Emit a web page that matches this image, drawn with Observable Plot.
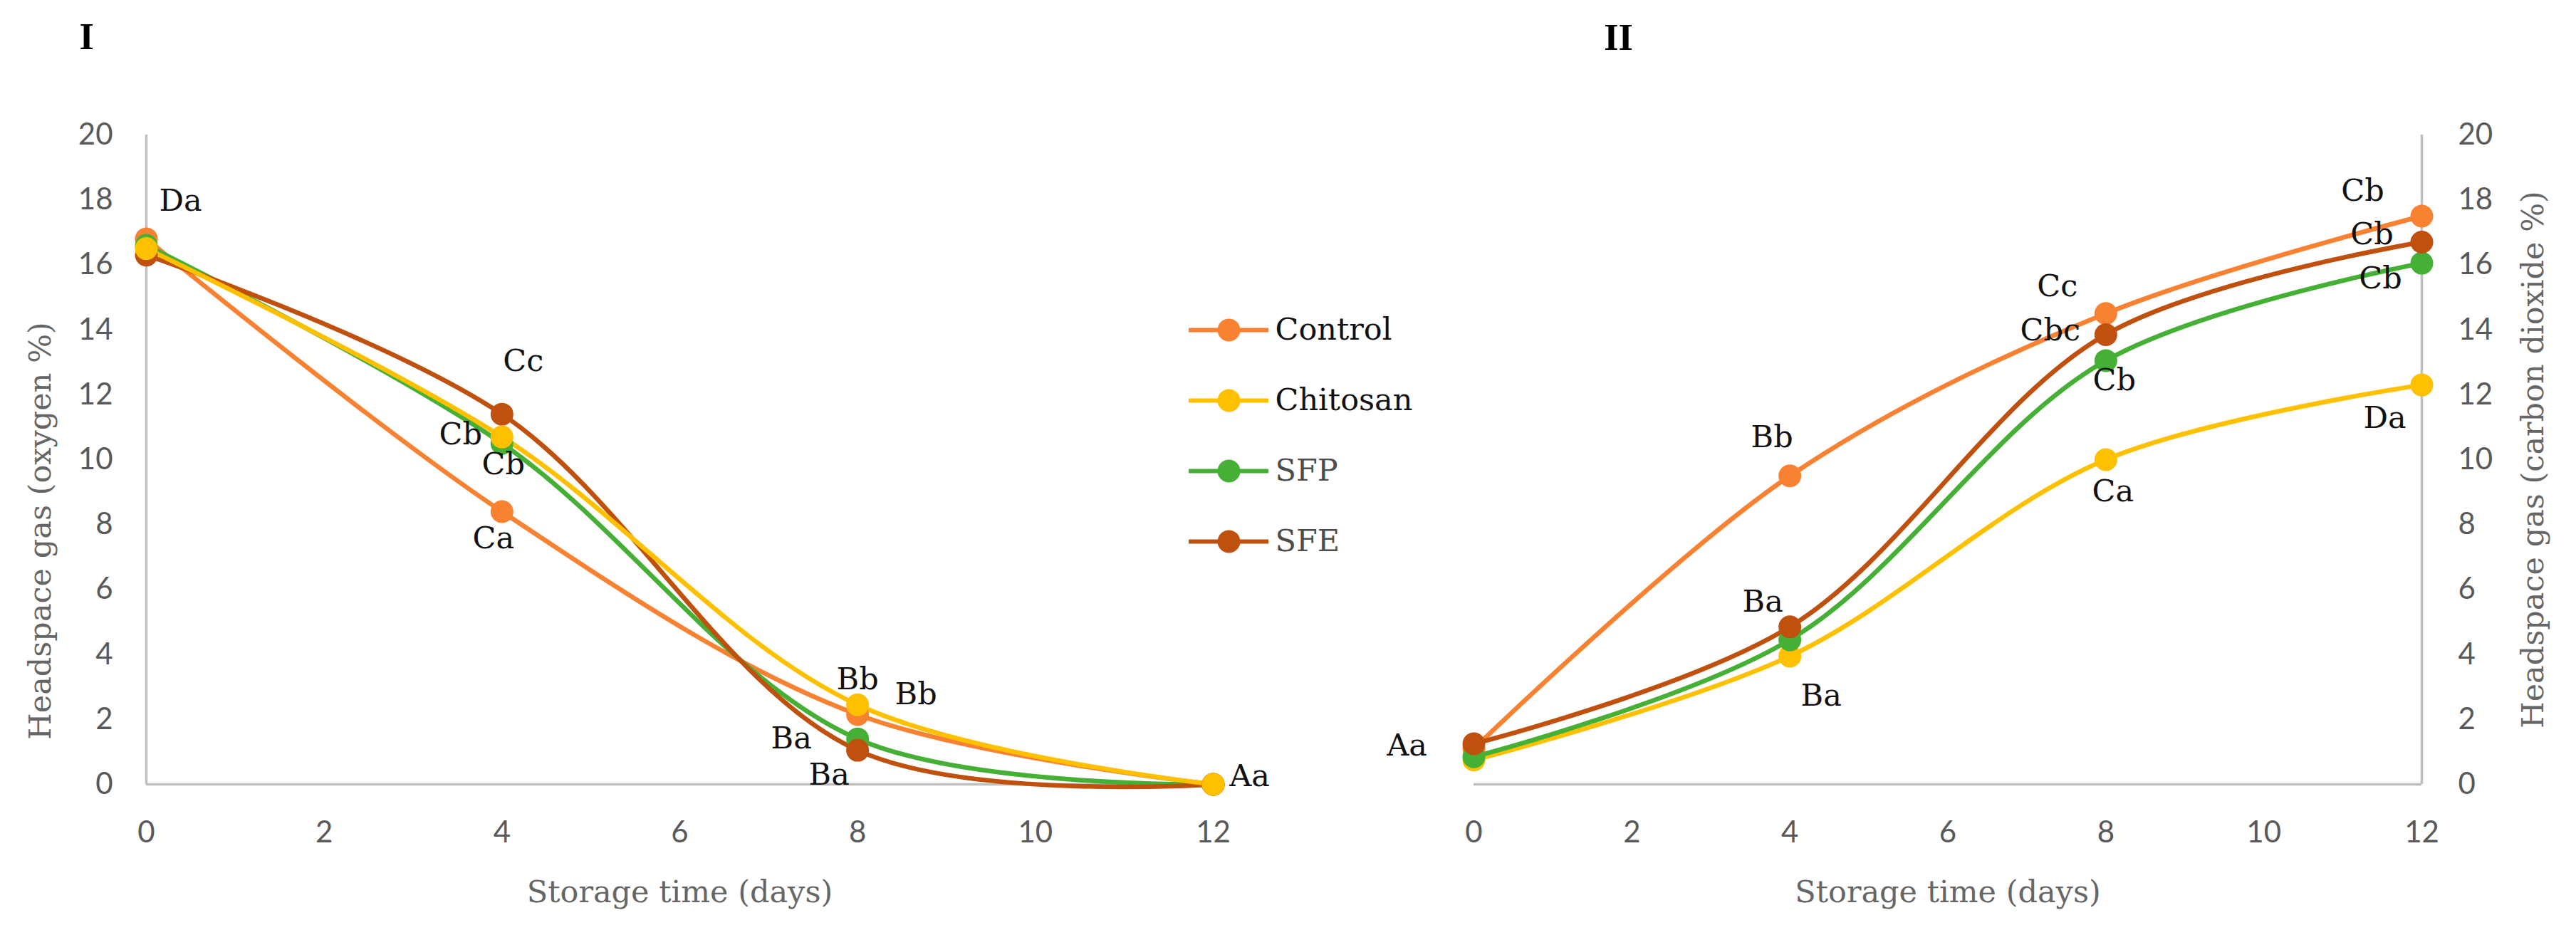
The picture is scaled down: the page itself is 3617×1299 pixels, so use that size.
<!DOCTYPE html>
<html><head><meta charset="utf-8">
<script src="https://cdn.jsdelivr.net/npm/d3@7"></script>
<script src="https://cdn.jsdelivr.net/npm/@observablehq/plot@0.6"></script>
<style>
html,body{margin:0;padding:0;background:#fff;}
#wrap{position:relative;width:3617px;height:1299px;overflow:hidden;background:#fff;}
</style></head>
<body><div id="wrap"></div>
<script>
// ---- data ----
const days = [0, 4, 8, 12];
const treatments = ["Control", "Chitosan", "SFP", "SFE"];
const treatmentColors = ["#F98232", "#FFC000", "#45B035", "#C0500E"];
const xTicks = [0, 2, 4, 6, 8, 10, 12];
const yTicks = [0, 2, 4, 6, 8, 10, 12, 14, 16, 18, 20];

// Panel I: headspace oxygen (%)
const o2Control  = [16.8, 8.4, 2.15, 0];
const o2Chitosan = [16.5, 10.7, 2.45, 0];
const o2SFP      = [16.6, 10.5, 1.4, 0];
const o2SFE      = [16.3, 11.4, 1.05, 0];
const o2ControlLetters  = ["Da", "Ca", "Bb", null];
const o2ChitosanLetters = [null, "Cb", "Bb", "Aa"];
const o2SFPLetters      = [null, "Cb", "Ba", null];
const o2SFELetters      = [null, "Cc", "Ba", null];

// Panel II: headspace carbon dioxide (%)
const co2Control  = [1.1, 9.5, 14.5, 17.5];
const co2Chitosan = [0.75, 3.95, 10.0, 12.3];
const co2SFP      = [0.85, 4.45, 13.05, 16.05];
const co2SFE      = [1.25, 4.85, 13.85, 16.7];
const co2ControlLetters  = [null, "Bb", "Cc", "Cb"];
const co2ChitosanLetters = [null, "Ba", "Ca", "Da"];
const co2SFPLetters      = [null, null, "Cb", "Cb"];
const co2SFELetters      = ["Aa", "Ba", "Cbc", "Cb"];

// ---- helpers ----
function series(name, values, letters) {
  return days.map((d, i) => ({treatment: name, day: d, value: values[i], letter: letters[i]}));
}
const o2Data = [
  ...series("Control", o2Control, o2ControlLetters),
  ...series("SFP", o2SFP, o2SFPLetters),
  ...series("SFE", o2SFE, o2SFELetters),
  ...series("Chitosan", o2Chitosan, o2ChitosanLetters)
];
const co2Data = [
  ...series("Control", co2Control, co2ControlLetters),
  ...series("Chitosan", co2Chitosan, co2ChitosanLetters),
  ...series("SFP", co2SFP, co2SFPLetters),
  ...series("SFE", co2SFE, co2SFELetters)
];

// label placement (pixel offsets from the point)
const o2Offsets = {
  "Control|0": [48, -53], "Control|4": [-12, 38], "Control|8": [82, -28],
  "Chitosan|4": [-58, -3], "Chitosan|8": [0, -36], "Chitosan|12": [51, -11],
  "SFP|4": [2, 30], "SFP|8": [-93, 0],
  "SFE|4": [30, -74], "SFE|8": [-40, 35]
};
const co2Offsets = {
  "SFE|0": [-94, 3], "Control|4": [-25, -54], "SFE|4": [-38, -35], "Chitosan|4": [44, 56],
  "Control|8": [-68, -38], "SFE|8": [-78, -6], "SFP|8": [12, 28], "Chitosan|8": [10, 45],
  "Control|12": [-83, -35], "SFE|12": [-70, -11], "SFP|12": [-58, 22], "Chitosan|12": [-52, 47]
};

const serif = "'DejaVu Serif', 'Liberation Serif', serif";
const labelSize = 43;
const axisGray = "#BFBFBF";
const textGray = "#595959";

function letterMarks(data, offsets) {
  return data.filter(d => d.letter).map(d => {
    const [dx, dy] = offsets[d.treatment + "|" + d.day];
    return Plot.text([d], {x: "day", y: "value", text: "letter", dx, dy,
      fill: "#111", fontFamily: serif, fontSize: labelSize});
  });
}

function panel({data, offsets, left, width, marginLeft, marginRight, yAnchor, yTitle, yTitleDx, yTitleDy, panelLabel, panelDx, panelDy}) {
  const axisX = yAnchor === "left" ? 0 : 12;
  const svg = Plot.plot({
    width, height: 1299,
    marginLeft, marginRight, marginTop: 189, marginBottom: 198,
    style: {fontFamily: "Lato", fontSize: "42px", color: textGray, background: "transparent", overflow: "visible"},
    x: {domain: [0, 12]},
    y: {domain: [0, 20]},
    color: {domain: treatments, range: treatmentColors},
    marks: [
      Plot.ruleY([0], {stroke: axisGray, strokeWidth: 3.5}),
      Plot.ruleX([axisX], {y1: 0, y2: 20, stroke: axisGray, strokeWidth: 3.5}),
      Plot.axisX({ticks: xTicks, tickSize: 0, tickPadding: 52, label: null, fill: textGray, fontSize: 42}),
      Plot.axisY({anchor: yAnchor, ticks: yTicks, tickSize: 0, tickPadding: yAnchor === "left" ? 47 : 51, label: null, fill: textGray, fontSize: 42}),
      Plot.line(data, {x: "day", y: "value", z: "treatment", stroke: "treatment", strokeWidth: 6.5, curve: "catmull-rom"}),
      Plot.dot(data, {x: "day", y: "value", fill: "treatment", r: 16}),
      ...letterMarks(data, offsets),
      Plot.text(["Storage time (days)"], {frameAnchor: "bottom", textAnchor: "middle", lineAnchor: "middle", dy: 152, fill: "#666", fontFamily: serif, fontSize: 43}),
      Plot.text([yTitle], {frameAnchor: yAnchor, textAnchor: "middle", lineAnchor: "middle", rotate: -90, dx: yTitleDx, dy: yTitleDy, fill: "#666", fontFamily: serif, fontSize: 43}),
      Plot.text([panelLabel], {frameAnchor: "top-left", textAnchor: "middle", lineAnchor: "middle", dx: panelDx, dy: panelDy, fill: "#000", fontFamily: "'Liberation Serif', serif", fontWeight: "bold", fontSize: 52})
    ]
  });
  svg.style.position = "absolute";
  svg.style.left = left + "px";
  svg.style.top = "0px";
  return svg;
}

const wrap = document.getElementById("wrap");

wrap.appendChild(panel({
  data: o2Data, offsets: o2Offsets, left: 0, width: 1880,
  marginLeft: 205, marginRight: 177, yAnchor: "left",
  yTitle: "Headspace gas (oxygen %)", yTitleDx: -148, yTitleDy: 100,
  panelLabel: "I", panelDx: -84, panelDy: -137
}));

wrap.appendChild(panel({
  data: co2Data, offsets: co2Offsets, left: 1880, width: 1737,
  marginLeft: 189, marginRight: 217, yAnchor: "right",
  yTitle: "Headspace gas (carbon dioxide %)", yTitleDx: 157, yTitleDy: 0,
  panelLabel: "II", panelDx: 203, panelDy: -136
}));

// legend
const legend = Plot.plot({
  width: 350, height: 380, margin: 0,
  style: {background: "transparent", overflow: "visible"},
  x: {domain: [0, 1], range: [19, 131], axis: null},
  y: {type: "point", domain: treatments, range: [42, 340], padding: 0, axis: null},
  color: {domain: treatments, range: treatmentColors},
  marks: [
    Plot.ruleY(treatments, {y: d => d, x1: 0, x2: 1, stroke: d => d, strokeWidth: 6}),
    Plot.dot(treatments, {x: 0.5, y: d => d, fill: d => d, r: 16}),
    Plot.text(treatments, {x: 1, y: d => d, text: d => d, dx: 9, textAnchor: "start",
      fill: d => (d === "SFP" || d === "SFE") ? "#4d4d4d" : "#111", fontFamily: serif, fontSize: 43})
  ]
});
legend.style.position = "absolute";
legend.style.left = "1650px";
legend.style.top = "420px";
wrap.appendChild(legend);
</script></body></html>
